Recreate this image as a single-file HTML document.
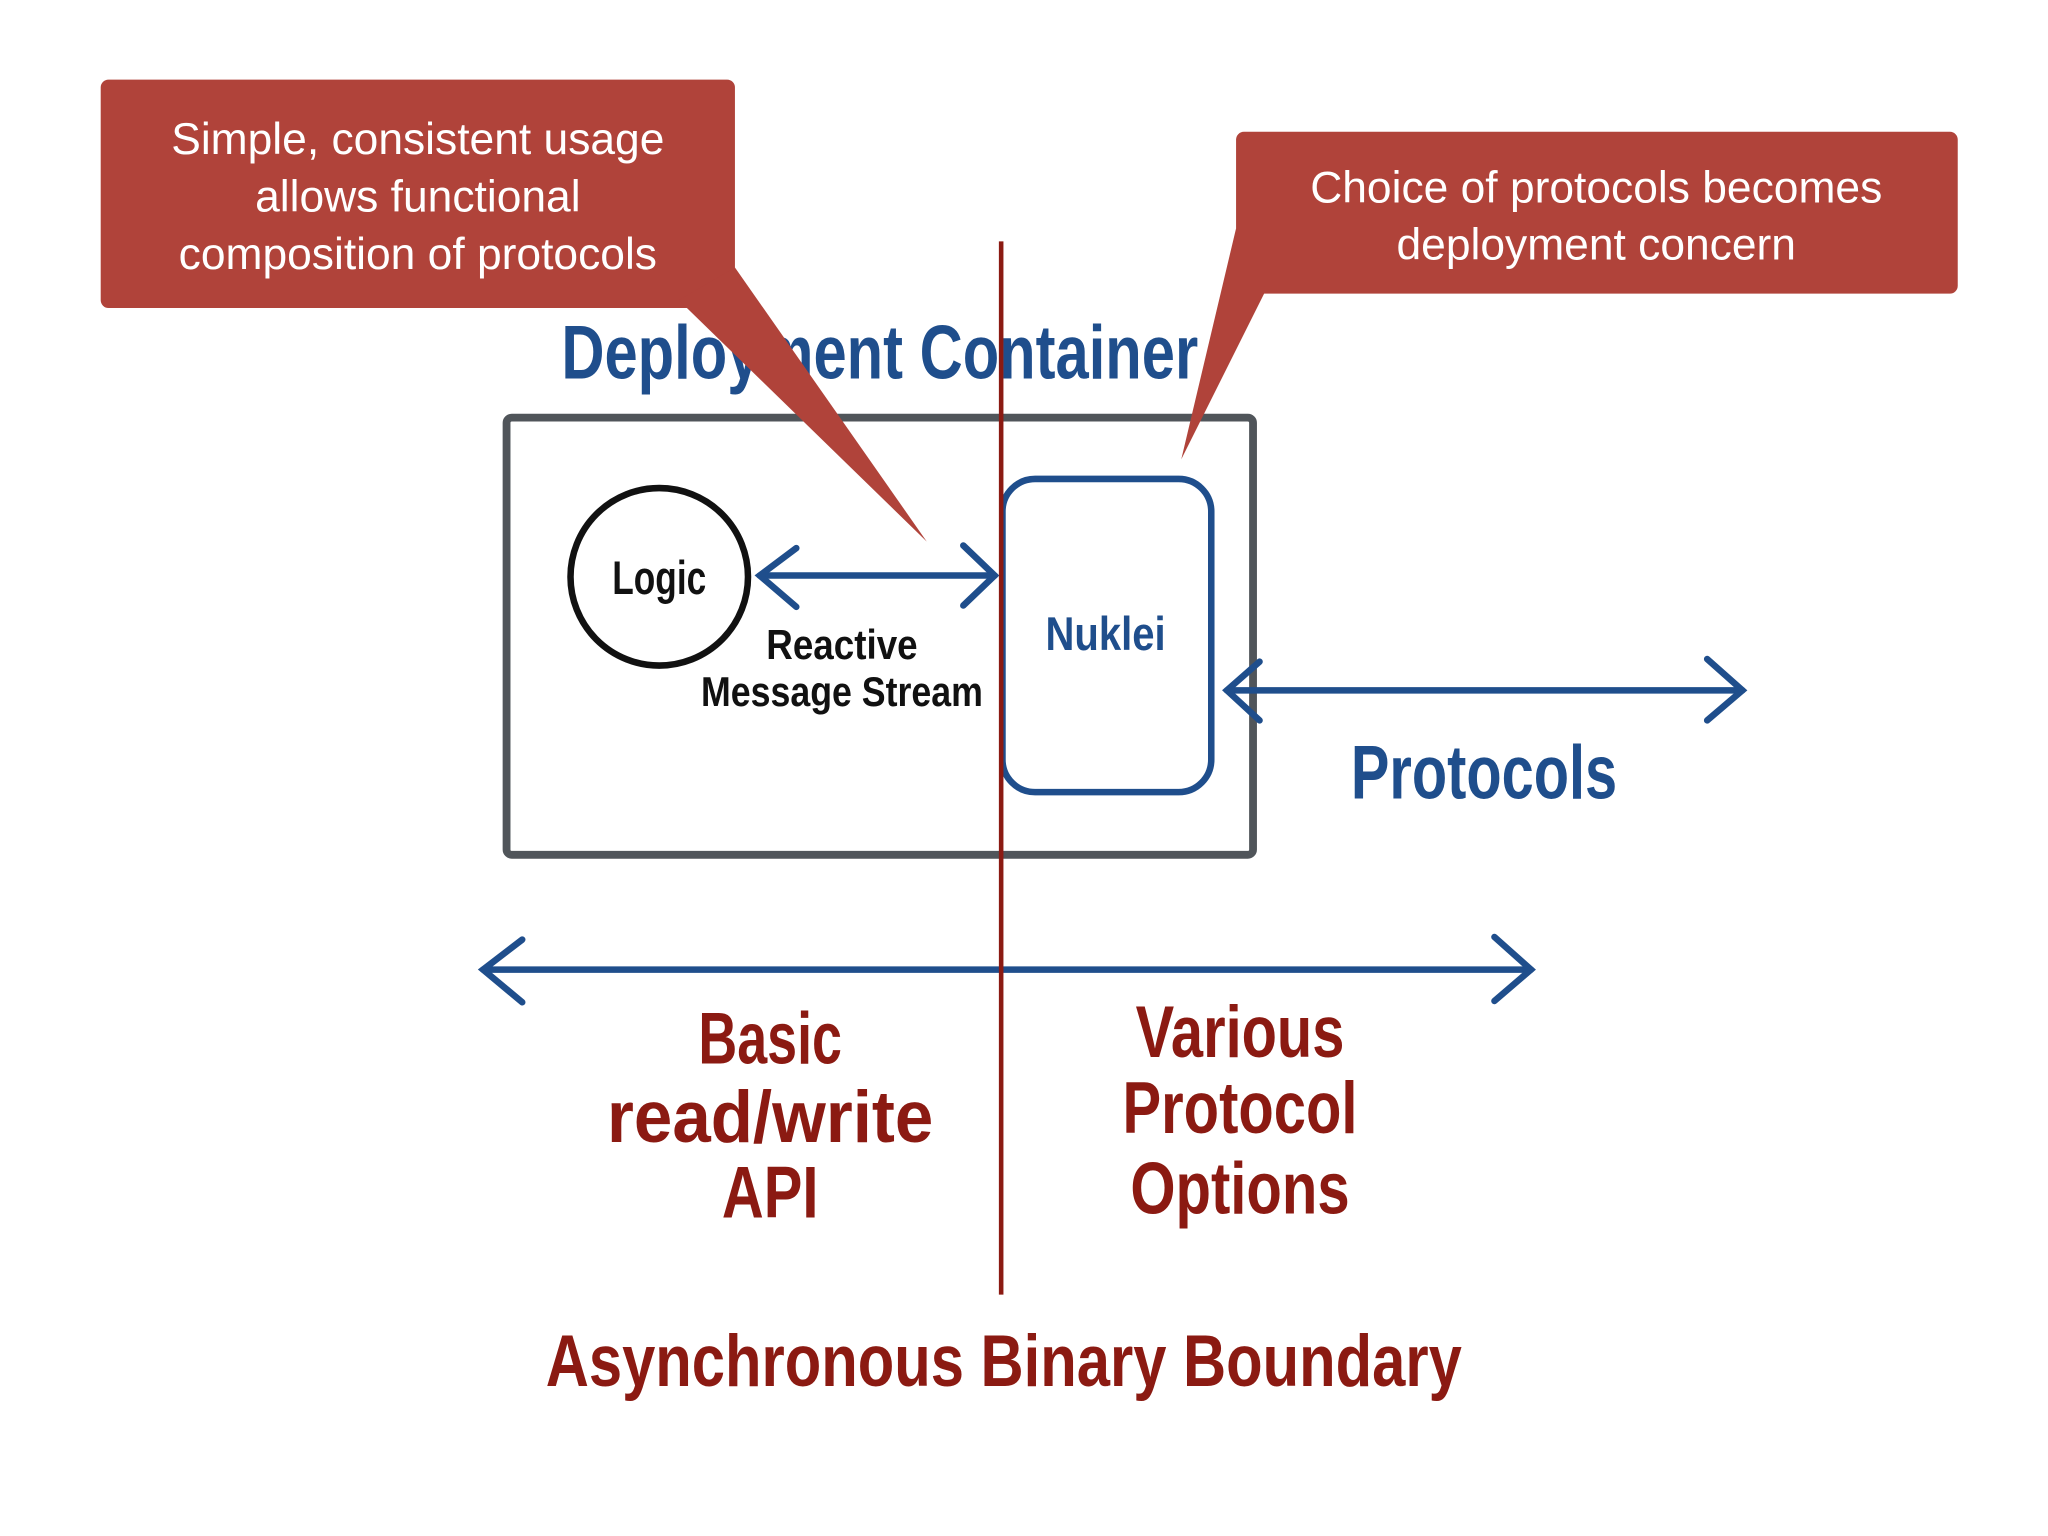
<!DOCTYPE html>
<html><head><meta charset="utf-8"><style>
html,body{margin:0;padding:0;background:#fff;}
svg{display:block;}
.h{font-family:"Liberation Sans Narrow","Liberation Sans",sans-serif;font-weight:bold;}
.c{font-family:"Liberation Sans",sans-serif;fill:#fff;font-size:34px;text-anchor:middle;}
</style></head><body>
<svg width="2048" height="1536" viewBox="0 0 1569 1177" xmlns="http://www.w3.org/2000/svg">
<rect width="1569" height="1177" fill="#fff"/>
<rect x="388" y="320" width="572" height="335" rx="4" fill="none" stroke="#50555a" stroke-width="6"/>
<text class="h" x="430" y="290" font-size="58" fill="#1f4e8c" textLength="488" lengthAdjust="spacingAndGlyphs">Deployment Container</text>
<circle cx="505" cy="442" r="68" fill="none" stroke="#111" stroke-width="5"/>
<text class="h" x="505" y="455" font-size="36" fill="#111" text-anchor="middle" textLength="72" lengthAdjust="spacingAndGlyphs">Logic</text>
<g stroke="#1f4e8c" stroke-width="5" fill="none" stroke-linecap="round">
<line x1="582" y1="441" x2="762" y2="441"/>
<polyline points="610,420 582,441 610,465"/>
<polyline points="738,418 762,441 738,464"/>
<line x1="940" y1="529" x2="1335" y2="529"/>
<polyline points="965,507 940,529 965,552"/>
<polyline points="1308,505 1335,529 1308,552"/>
<line x1="370" y1="743" x2="1173" y2="743"/>
<polyline points="400,720 370,743 400,768"/>
<polyline points="1145,718 1173,743 1145,767"/>
</g>
<text class="h" x="645" y="505" font-size="32" fill="#111" text-anchor="middle" textLength="116" lengthAdjust="spacingAndGlyphs">Reactive</text>
<text class="h" x="645" y="541" font-size="32" fill="#111" text-anchor="middle" textLength="216" lengthAdjust="spacingAndGlyphs">Message Stream</text>
<rect x="768" y="367" width="160" height="240" rx="25" fill="none" stroke="#1f4e8c" stroke-width="5"/>
<text class="h" x="847" y="498" font-size="36" fill="#1f4e8c" text-anchor="middle" textLength="92" lengthAdjust="spacingAndGlyphs">Nuklei</text>
<text class="h" x="1137" y="612" font-size="58" fill="#1f4e8c" text-anchor="middle" textLength="204" lengthAdjust="spacingAndGlyphs">Protocols</text>
<g class="h" fill="#8b1a12" font-size="56" text-anchor="middle">
<text x="590" y="815" textLength="110" lengthAdjust="spacingAndGlyphs">Basic</text>
<text x="590" y="875" textLength="250" lengthAdjust="spacingAndGlyphs">read/write</text>
<text x="590" y="933" textLength="74" lengthAdjust="spacingAndGlyphs">API</text>
<text x="950" y="810" textLength="160" lengthAdjust="spacingAndGlyphs">Various</text>
<text x="950" y="868" textLength="180" lengthAdjust="spacingAndGlyphs">Protocol</text>
<text x="950" y="930" textLength="168" lengthAdjust="spacingAndGlyphs">Options</text>
<text x="418" y="1062" textLength="702" lengthAdjust="spacingAndGlyphs" text-anchor="start">Asynchronous Binary Boundary</text>
</g>
<line x1="767" y1="185" x2="767" y2="992" stroke="#8b1a12" stroke-width="3.5"/>
<g fill="#b0433a">
<rect x="77" y="61" width="486" height="175" rx="6"/>
<polygon points="520,230 563,205 710,415"/>
<rect x="947" y="101" width="553" height="124" rx="6"/>
<polygon points="947,175 970,222 905,352"/>
</g>
<text class="c" x="320" y="118">Simple, consistent usage</text>
<text class="c" x="320" y="162">allows functional</text>
<text class="c" x="320" y="206">composition of protocols</text>
<text class="c" x="1223" y="155">Choice of protocols becomes</text>
<text class="c" x="1223" y="199">deployment concern</text>
</svg>
</body></html>
